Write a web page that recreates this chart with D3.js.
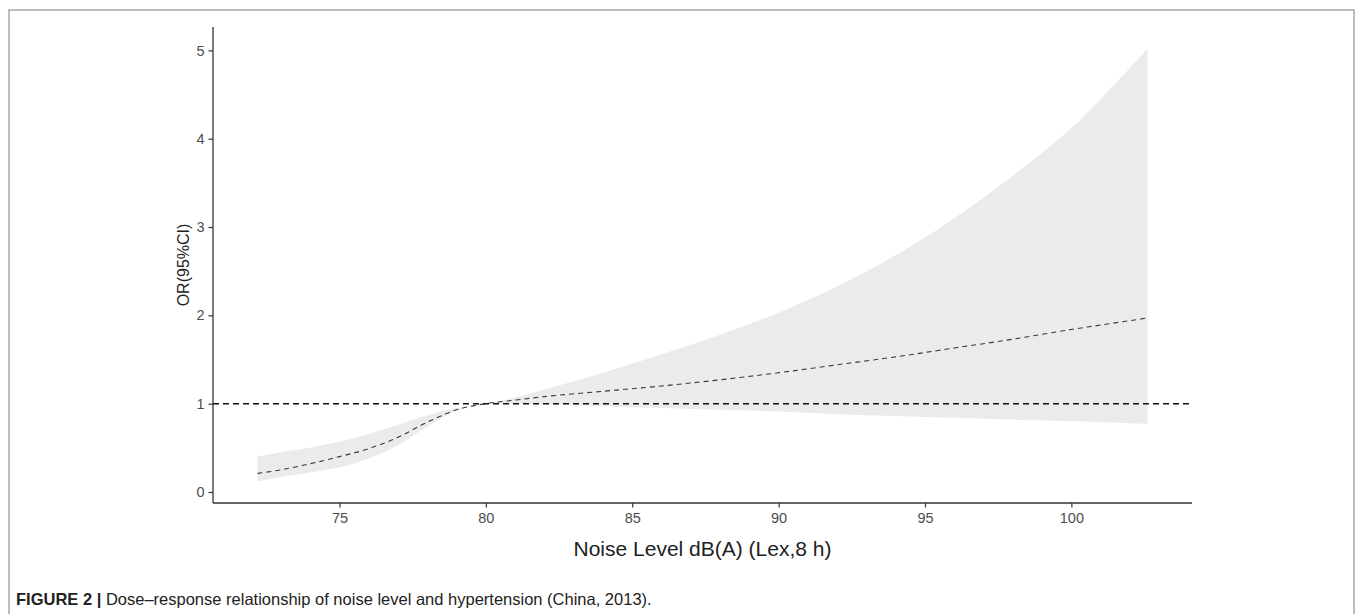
<!DOCTYPE html>
<html>
<head>
<meta charset="utf-8">
<script src="https://cdn.jsdelivr.net/npm/d3@7"></script>
<style>
  html, body { margin: 0; padding: 0; background: #fff; }
  svg { display: block; }
</style>
</head>
<body>
<script>
const width = 1355, height = 614;

// noise level, dB(A)
const noise = [72.2, 73, 74, 75, 76, 77, 78, 79, 80, 81, 82, 84, 86, 88, 90, 92, 94, 96, 98, 100, 101, 102.6];
// odds ratio and its 95% CI
const orValue = [0.21, 0.25, 0.32, 0.40, 0.49, 0.62, 0.79, 0.93, 1.00, 1.04, 1.08, 1.14, 1.20, 1.27, 1.35, 1.44, 1.53, 1.63, 1.73, 1.84, 1.89, 1.97];
const ciUpper = [0.40, 0.45, 0.50, 0.57, 0.66, 0.76, 0.87, 0.95, 1.00, 1.07, 1.16, 1.35, 1.56, 1.78, 2.03, 2.33, 2.68, 3.10, 3.58, 4.12, 4.45, 5.02];
const ciLower = [0.12, 0.17, 0.22, 0.28, 0.38, 0.53, 0.74, 0.92, 1.00, 1.00, 0.99, 0.97, 0.95, 0.93, 0.91, 0.88, 0.86, 0.84, 0.82, 0.80, 0.79, 0.77];
const xTicks = [75, 80, 85, 90, 95, 100];
const yTicks = [0, 1, 2, 3, 4, 5];
const refLine = 1;

const data = noise.map((x, i) => ({ x, or: orValue[i], lo: ciLower[i], hi: ciUpper[i] }));

const svg = d3.select("body").append("svg")
    .attr("width", width)
    .attr("height", height);

// figure frame
svg.append("rect")
    .attr("x", 9).attr("y", 10)
    .attr("width", 1345).attr("height", 700)
    .attr("fill", "none")
    .attr("stroke", "#9a9a9a")
    .attr("stroke-width", 1.3);

const plot = { left: 213, right: 1192, top: 27, bottom: 503 };

// ggplot style 5% expansion
const xr = d3.extent(noise), xpad = (xr[1] - xr[0]) * 0.05;
const yr = [d3.min(ciLower), d3.max(ciUpper)], ypad = (yr[1] - yr[0]) * 0.05;

const x = d3.scaleLinear().domain([xr[0] - xpad, xr[1] + xpad]).range([plot.left, plot.right]);
const y = d3.scaleLinear().domain([yr[0] - ypad, yr[1] + ypad]).range([plot.bottom, plot.top]);

// confidence band
svg.append("path")
    .datum(data)
    .attr("fill", "#ebebeb")
    .attr("d", d3.area()
        .x(d => x(d.x))
        .y0(d => y(d.lo))
        .y1(d => y(d.hi))
        .curve(d3.curveCatmullRom.alpha(0.5)));

// OR curve
svg.append("path")
    .datum(data)
    .attr("fill", "none")
    .attr("stroke", "#3a3a3a")
    .attr("stroke-width", 1.1)
    .attr("stroke-dasharray", "5,4")
    .attr("d", d3.line()
        .x(d => x(d.x))
        .y(d => y(d.or))
        .curve(d3.curveCatmullRom.alpha(0.5)));

// reference line at OR = 1
svg.append("line")
    .attr("x1", plot.left).attr("x2", plot.right)
    .attr("y1", y(refLine)).attr("y2", y(refLine))
    .attr("stroke", "#111")
    .attr("stroke-width", 1.5)
    .attr("stroke-dasharray", "6,4");

// axes
const xAxis = svg.append("g")
    .attr("transform", `translate(0,${plot.bottom})`)
    .call(d3.axisBottom(x).tickValues(xTicks).tickSize(4.5).tickSizeOuter(0).tickPadding(5));

const yAxis = svg.append("g")
    .attr("transform", `translate(${plot.left},0)`)
    .call(d3.axisLeft(y).tickValues(yTicks).tickFormat(d3.format("d")).tickSize(4.5).tickSizeOuter(0).tickPadding(4));

[xAxis, yAxis].forEach(g => {
    g.select(".domain").attr("stroke", "#333").attr("stroke-width", 1.3);
    g.selectAll(".tick line").attr("stroke", "#333").attr("stroke-width", 1.2);
    g.selectAll(".tick text")
        .attr("fill", "#4d4d4d")
        .style("font-family", "Arial, 'Liberation Sans', sans-serif")
        .style("font-size", "14.5px");
});

// extend the axis lines across the full panel
xAxis.select(".domain").attr("d", `M${plot.left},0H${plot.right}`);
yAxis.select(".domain").attr("d", `M0,${plot.top}V${plot.bottom}`);

// axis titles
svg.append("text")
    .attr("x", (plot.left + plot.right) / 2)
    .attr("y", 556)
    .attr("text-anchor", "middle")
    .attr("fill", "#222")
    .style("font-family", "Arial, 'Liberation Sans', sans-serif")
    .style("font-size", "21px")
    .text("Noise Level dB(A) (Lex,8 h)");

svg.append("text")
    .attr("transform", `translate(189,${(plot.top + plot.bottom) / 2}) rotate(-90)`)
    .attr("text-anchor", "middle")
    .attr("fill", "#222")
    .style("font-family", "Arial, 'Liberation Sans', sans-serif")
    .style("font-size", "16px")
    .text("OR(95%CI)");

// caption
const cap = svg.append("text")
    .attr("x", 16)
    .attr("y", 605)
    .attr("fill", "#222")
    .style("font-family", "'Liberation Sans Narrow', 'Arial Narrow', sans-serif")
    .style("font-size", "16.5px");
cap.append("tspan").attr("font-weight", "bold").text("FIGURE 2 | ");
cap.append("tspan").text("Dose–response relationship of noise level and hypertension (China, 2013).");
</script>
</body>
</html>
